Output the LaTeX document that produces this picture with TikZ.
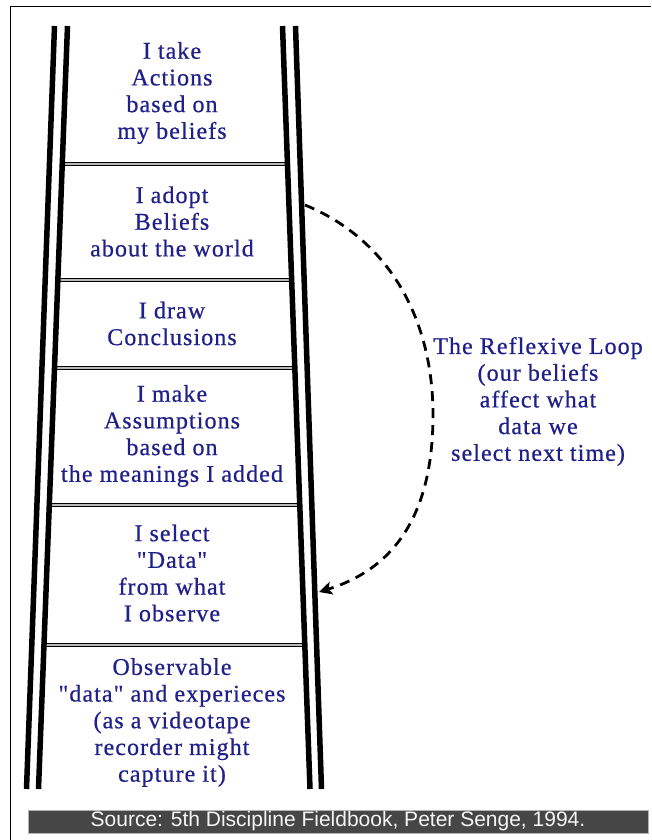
\documentclass[tikz,border=0pt]{standalone}
\usepackage{fontspec}
\setmainfont{Liberation Serif}
\newfontfamily\ladderfont[LetterSpace=4.5,FakeBold=0.6]{Liberation Serif}
\newfontfamily\srcfont{Liberation Sans}
\usetikzlibrary{arrows.meta,calc}
\definecolor{inkblue}{RGB}{32,32,138}
\definecolor{bargray}{RGB}{70,70,70}
\begin{document}
\begin{tikzpicture}[x=1pt,y=-1pt,
  rail/.style={line width=5.5pt,black},
  rung/.style={line width=1pt,draw=black,double=gray!55,double distance=1.6pt},
  stepbox/.style={align=center,inner sep=0pt,text=inkblue,
    font=\ladderfont\fontsize{24}{26.7}\selectfont},
  loopline/.style={line width=2.8pt,dash pattern=on 10pt off 7pt,
    -{Stealth[length=13pt,width=13pt,inset=3pt]}},
  sourcebar/.style={fill=bargray,draw=gray!60,line width=0.6pt,
    minimum width=620pt,minimum height=23pt,inner sep=0pt,
    text=white!92!gray,font=\srcfont\fontsize{21}{21}\selectfont}]
\useasboundingbox (0,0) rectangle (651,840);
\fill[white] (0,0) rectangle (651,840);
% frame
\draw[line width=1.5pt] (10.7,840) -- (10.7,6.7) -- (651,6.7);
% rails geometry
\coordinate (LOt) at (54.5,26);  \coordinate (LOb) at (26.5,789);
\coordinate (LIt) at (67.5,26);  \coordinate (LIb) at (38.5,789);
\coordinate (RIt) at (282.5,26); \coordinate (RIb) at (310,789);
\coordinate (ROt) at (295.5,26); \coordinate (ROb) at (321.5,789);
% rungs
\foreach \t in {0.1809,0.3329,0.4482,0.6278,0.8113}
  \draw[rung] ($(LIt)!\t!(LIb)$) -- ($(RIt)!\t!(RIb)$);
% rails
\draw[rail] (LOt) -- (LOb);
\draw[rail] (LIt) -- (LIb);
\draw[rail] (RIt) -- (RIb);
\draw[rail] (ROt) -- (ROb);
% steps
\node[stepbox] (actions) at (172,93) {I take\\Actions\\based on\\my beliefs};
\node[stepbox] (beliefs) at (172,221.5) {I adopt\\Beliefs\\about the world};
\node[stepbox] (conclusions) at (172,323.5) {I draw\\Conclusions};
\node[stepbox] (assumptions) at (172,436) {I make\\Assumptions\\based on\\the meanings I added};
\node[stepbox] (data) at (172,573) {I select\\"Data"\\from what\\I observe};
\node[stepbox] (observable) at (172,722.5) {Observable\\"data" and experieces\\(as a videotape\\recorder might\\capture it)};
% reflexive loop
\node[stepbox] (looptext) at (538,401.5) {The Reflexive Loop\\(our beliefs\\affect what\\data we\\select next time)};
\coordinate (loopstart) at (305,205);
\coordinate (loopmid) at (433,415);
\coordinate (looptip) at (319,592);
\draw[loopline] (loopstart) .. controls (390,240) and (433,320) .. (loopmid)
  .. controls (433,520) and (390,570) .. (looptip);
% source bar
\node[sourcebar] (source) at (338,821.5) {Source: 5th Discipline Fieldbook, Peter Senge, 1994.};
\end{tikzpicture}
\end{document}
